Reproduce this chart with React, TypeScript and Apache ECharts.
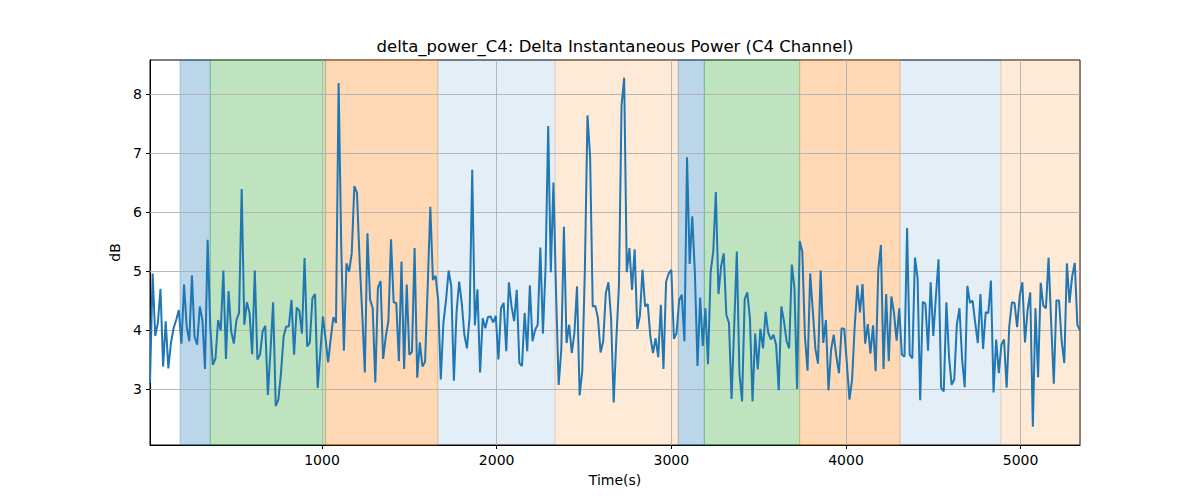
import React, { useEffect, useRef } from "react";
import * as echarts from "echarts";

// sampling grid (seconds)
const T_START = 15;
const T_STEP = 15;

const values: number[] = [
  3.10,
  4.96, 3.90, 4.12, 4.70, 3.38, 4.15, 3.35, 3.78, 4.03, 4.17, 4.34, 3.77, 4.77, 4.06, 3.81, 4.93, 3.89, 3.75, 4.40, 4.17, 3.34, 5.53, 4.06, 3.41, 3.52, 4.17, 3.99, 5.01, 3.51, 4.66, 3.98, 3.77, 4.17, 4.29, 6.39, 4.09, 4.47, 4.29, 3.59, 5.01, 3.50, 3.58, 3.98, 4.07, 2.90,
  3.65,
  4.47, 2.71, 2.82, 3.27, 3.89, 4.06, 4.06, 4.51, 3.58, 4.38, 4.33, 3.94, 5.22, 3.72, 3.79, 4.54, 4.61, 3.02, 3.61, 4.23, 3.86, 3.45, 3.86, 4.22, 4.12, 8.19, 5.42, 3.65, 5.13, 4.99, 5.30, 6.44, 6.33, 5.19, 4.29, 3.28, 5.64, 4.52, 4.37, 3.11, 4.72, 4.83, 3.51, 3.89, 4.15,
  5.54, 4.47, 4.46, 3.47, 5.16, 3.34, 4.77, 3.58, 3.63, 5.39, 3.19, 3.79, 3.38, 3.46, 4.74, 6.09, 4.85, 4.92, 4.51, 3.16, 4.12, 4.51, 5.01, 4.74, 3.14, 4.29, 4.82, 4.46, 3.92, 3.69, 4.23, 6.72, 4.08, 4.69, 3.28, 4.20, 4.03, 4.22, 4.23, 4.13, 4.24, 3.50, 4.37, 4.46, 3.64, 4.81,
  4.40, 4.15, 4.68, 3.44, 3.39, 4.29, 3.64, 4.76, 3.81, 4.00, 4.09, 5.40, 3.94, 5.08, 7.46, 4.98, 6.50, 4.63, 3.07, 3.67, 5.75, 3.78, 4.09, 3.61, 3.95, 4.74, 2.89, 3.30, 5.02, 7.64, 6.94, 4.40, 4.41, 4.20, 3.62, 3.81, 4.63, 4.81, 4.20, 2.77, 3.84, 4.74, 7.81, 8.28, 4.98, 5.39,
  4.68, 5.37, 4.02, 4.24, 5.02, 4.40, 4.44, 3.89, 3.61, 3.86, 3.54, 4.43, 3.34, 4.82, 4.96, 5.02, 3.85, 3.95, 4.51, 4.60, 3.81, 6.93, 5.12, 5.93, 4.96, 3.39, 4.55, 3.73, 4.37, 3.42, 4.98, 5.33, 6.34, 4.61, 5.08, 5.30, 4.26, 4.12, 2.83, 4.06, 5.33, 3.27, 2.79, 4.52, 4.64,
  4.20, 2.79, 3.94, 3.33, 4.02, 3.69, 4.31, 3.95, 3.84, 3.92, 3.75, 2.98, 4.40, 4.15, 3.81, 3.69, 5.11, 4.71, 3.00, 5.51, 5.33, 3.89, 3.31, 4.96, 4.33, 3.68, 3.43, 5.01, 3.78, 4.17, 2.98, 3.67, 3.92, 3.55, 3.27, 4.03, 4.02, 3.44, 2.82, 3.16, 4.06, 4.76, 4.30, 4.78, 3.77, 4.10, 3.60,
  4.08, 3.30, 5.02, 5.44, 3.34, 4.61, 3.47, 4.57, 4.29, 3.82, 4.37, 3.58, 3.55, 5.73, 3.58, 3.52, 5.23, 4.88, 2.81, 4.48, 4.44, 3.65, 4.81, 3.90, 4.57, 5.20, 3.02, 2.96, 4.47, 3.55, 3.07, 3.16, 4.10, 4.37, 3.50, 3.03, 4.75, 4.46, 4.50, 4.12, 3.78, 4.61, 3.68, 4.30, 4.29, 4.84,
  2.94, 3.84, 3.27, 3.75, 3.84, 3.02, 4.06, 4.47, 4.46, 4.05, 4.59, 4.81, 3.79, 4.34, 4.64, 2.36, 4.37, 3.20, 4.80, 4.41, 4.37, 5.23, 4.12, 3.09, 4.50, 4.50, 3.81, 3.44, 5.13, 4.46, 4.91, 5.14, 4.09, 3.99,
];

// shaded phases: [start, end, kind]
const spanStarts = [187, 360, 1021, 1663, 2335, 3040, 3189, 3735, 4309, 4887];
const spanEnds = [360, 1021, 1663, 2335, 3040, 3189, 3735, 4309, 4887, 5340];
const spanKinds = ["blue", "green", "orange", "lightblue", "lightorange", "blue", "green", "orange", "lightblue", "lightorange"];

const xTicks = [1000, 2000, 3000, 4000, 5000];
const yTicks = [3, 4, 5, 6, 7, 8];

const TITLE = "delta_power_C4: Delta Instantaneous Power (C4 Channel)";
const X_NAME = "Time(s)";
const Y_NAME = "dB";

const kindColor: Record<string, string> = {
  blue: "rgba(31,119,180,0.3)",
  green: "rgba(44,160,44,0.3)",
  orange: "rgba(255,127,14,0.3)",
  lightblue: "rgba(31,119,180,0.12)",
  lightorange: "rgba(255,127,14,0.16)",
};

export default function App() {
  const ref = useRef<HTMLDivElement>(null);
  useEffect(() => {
    if (!ref.current) return;
    const chart = echarts.init(ref.current, null, { renderer: "svg" });
    const data = values.map((v, i) => [T_START + T_STEP * i, v]);
    const xMin = T_START;
    const xMax = T_START + T_STEP * (values.length - 1);
    const yMin = 2.05;
    const yMax = 8.58;
    const font = "DejaVu Sans";
    const areas = spanStarts.map((s, i) => [
      {
        xAxis: s,
        itemStyle: {
          color: kindColor[spanKinds[i]],
          borderColor: kindColor[spanKinds[i]],
          borderWidth: 1,
        },
      },
      { xAxis: spanEnds[i] },
    ]);
    chart.setOption({
      animation: false,
      backgroundColor: "#fff",
      graphic: [
        {
          type: "text",
          x: 615,
          y: 46,
          style: {
            text: TITLE,
            font: `16.5px ${font}`,
            fill: "#000",
            textAlign: "center",
            textVerticalAlign: "middle",
          },
        },
      ],
      grid: {
        left: 150,
        right: 120,
        top: 60,
        bottom: 55,
        show: true,
        borderColor: "#000",
        borderWidth: 1,
        backgroundColor: "transparent",
      },
      xAxis: {
        type: "value",
        min: xMin,
        max: xMax,
        name: X_NAME,
        nameLocation: "middle",
        nameGap: 28,
        nameTextStyle: { fontFamily: font, fontSize: 14, color: "#000" },
        axisLine: { show: true, lineStyle: { color: "#000", width: 1 } },
        axisTick: {
          show: true,
          length: 4,
          lineStyle: { color: "#000" },
          customValues: xTicks,
        },
        axisLabel: {
          fontFamily: font,
          fontSize: 14,
          color: "#000",
          margin: 8,
          customValues: xTicks,
          formatter: (v: number) => String(v),
        },
        splitLine: { show: false },
      },
      yAxis: {
        type: "value",
        min: yMin,
        max: yMax,
        name: Y_NAME,
        nameLocation: "middle",
        nameGap: 24,
        nameTextStyle: { fontFamily: font, fontSize: 14, color: "#000" },
        axisLine: { show: true, lineStyle: { color: "#000", width: 1 } },
        axisTick: {
          show: true,
          length: 4,
          lineStyle: { color: "#000" },
          customValues: yTicks,
        },
        axisLabel: {
          fontFamily: font,
          fontSize: 14,
          color: "#000",
          margin: 8,
          customValues: yTicks,
          formatter: (v: number) => String(v),
        },
        splitLine: { show: false },
      },
      series: [
        {
          type: "line",
          data: data,
          showSymbol: false,
          symbol: "none",
          lineStyle: { color: "#1f77b4", width: 2 },
          z: 5,
          markArea: {
            silent: true,
            data: areas,
          },
        },
        {
          type: "line",
          data: [],
          markLine: {
            silent: true,
            symbol: "none",
            label: { show: false },
            lineStyle: { color: "#b0b0b0", width: 0.9, type: "solid" },
            data: [
              ...xTicks.map((x) => ({ xAxis: x })),
              ...yTicks.map((y) => ({ yAxis: y })),
            ],
          },
          z: 3,
        },
      ],
    });
    return () => chart.dispose();
  }, []);
  return (
    <div
      ref={ref}
      style={{ position: "fixed", left: 0, top: 0, width: 1200, height: 500 }}
    />
  );
}
